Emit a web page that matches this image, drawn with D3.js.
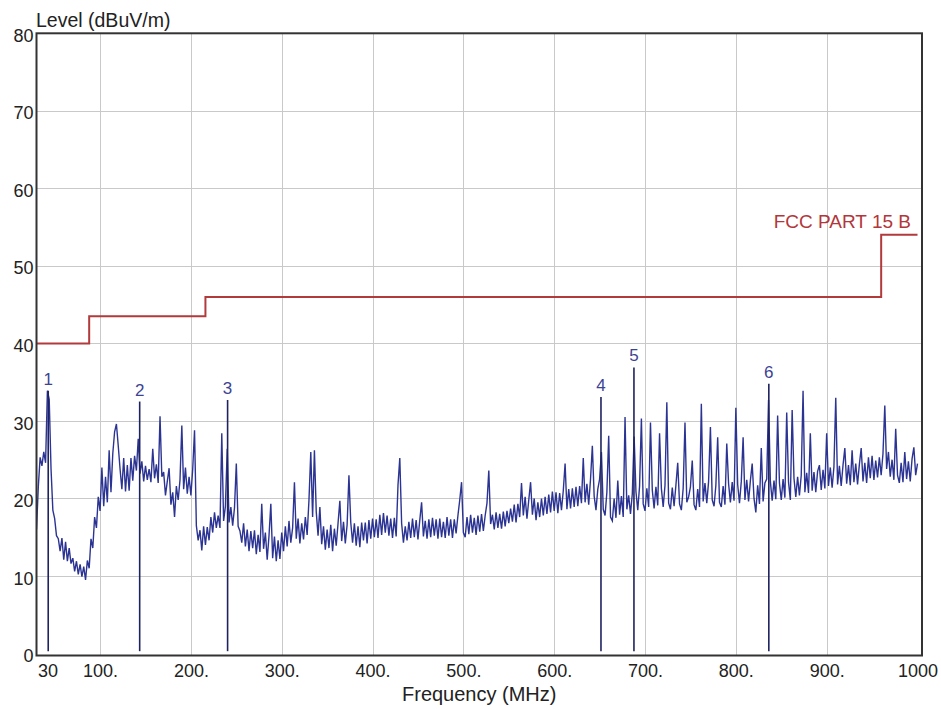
<!DOCTYPE html>
<html><head><meta charset="utf-8">
<script src="https://cdn.jsdelivr.net/npm/d3@7"></script>
<style>
body{margin:0;background:#fff}
svg{display:block}
text{font-family:"Liberation Sans",Arial,sans-serif}
</style>
</head><body>
<svg id="chart" width="941" height="710"></svg>
<script>
// ---------- data ----------
const sweepStartMHz = 30;
const sweepStepMHz = 2;
const traceLevels = [
16,21.5,25.3,24.2,26,24.6,33.9,32.8,23.8,18.5,
17.4,15.2,14.8,13.2,14.9,12.1,14.4,11.9,13.6,11.6,
12.3,10.6,11.9,10.2,11.5,9.9,11.2,9.5,12,11,
14.8,13.6,17.6,16.2,20.2,18.4,24,19,22.8,19.5,
26.2,20.8,25.8,28.6,29.6,26.8,23.8,21.2,25.2,20.9,
24.3,21,25.2,22.3,25.5,23.6,27.7,23.2,24.8,22.2,
24.2,22.4,23.8,22.1,26.4,22.6,24.4,22,30.6,22.8,
23.4,20.4,22.2,23.9,19.2,20.8,17.6,21.6,19.8,22.4,
29.4,21.2,24,20.6,22.8,20.4,23.8,28.8,16.5,14.6,
15.9,13.3,16.4,14,16.3,14.6,17.6,15.6,18.2,16.2,
17.8,16.2,28.4,17.1,19,26.4,16.9,18.9,16.5,18.8,
24.5,16.4,15.8,14.3,16.8,13.8,16,13.2,15.8,13.6,
15.9,12.8,15.3,13.1,19.3,13.5,15.6,12.1,15.2,19.3,
12.3,15.1,11.9,14.6,12.2,15.6,13.2,16.4,13.8,17.1,
14.3,16.2,22.1,14.8,17.4,14.2,16.8,14.7,17.6,15.3,
19.8,26,17.6,26.2,18.3,15.2,18.9,14.1,16.4,13.4,
16,13.6,16.6,13.2,16.1,13.9,16.8,19.7,14.5,17,
14.2,16.6,23,16.9,14.3,16.8,13.9,16.4,13.7,16.9,
14.6,16.9,14.2,17.2,14.8,17.4,15,17.3,14.9,17.9,
15.3,18.1,15.6,17.8,15.2,17.4,14.9,17.5,15.1,21.7,
25.2,16.8,14.3,16.4,14.6,17,14.9,17.4,15,17.2,
14.7,17.2,19.5,15.1,17.1,14.8,17.3,15,17.5,15.2,
17.3,14.8,17.4,15,17,14.9,17.6,15.2,17.3,14.9,
17.3,15.5,17.8,19.8,22.1,15.6,15,17.6,15.4,17.9,
15.6,17.5,15.3,17.8,15.7,18,15.8,17.8,19.4,23.6,
16.7,17.9,16,18.2,16.2,18,16.1,18.3,16.4,18.4,
16.8,18.7,17,19.2,16.9,19.3,17.6,22,17.8,20.2,
17.4,19.8,22.1,17.9,20,17.2,19.5,17.6,20,17.8,
20.2,18,20.5,18.2,20.9,18.4,20.8,18.1,20.7,18.5,
21,24.5,18.6,21.2,18.7,21.3,18.9,21.5,19,21.6,
19.4,25.2,19.5,21.9,19.2,22.5,26.8,20.3,18.5,21.2,
22.5,26,18.6,17.8,20.8,28.1,17.6,17.1,20,17.5,
22.3,17.9,20.3,17.6,30.5,18.6,20.4,18,20.6,28,
20.9,18.5,21.6,30.3,19.3,18.4,21.3,18.9,29.8,21.1,
18.7,21.5,19.1,28.4,21.3,18.9,21.7,32.4,19.4,18.6,
21.4,19,21.7,24.6,19.3,18.5,21.3,29.8,19.5,20.2,
21.5,24.9,19.2,18.5,21.2,18.9,32.2,19.6,22,19.4,
22.2,29.2,19.8,19,21.7,27.9,19.5,18.9,21.6,19.2,
27.1,21.9,19.5,22.1,19.7,31.7,21.8,19.4,22.2,27.9,
19.8,22.4,19.6,22.3,24.5,20,18.2,21.7,19.3,26.5,
19.6,22,22.5,32.7,22.2,19.7,22.3,19.9,30.7,22,
19.8,22.5,20.1,31.1,22.1,19.8,31.4,22.6,20.2,22.8,
20.4,23,33.9,20.8,23.3,20.7,28.4,21,23.4,20.8,
23.5,24.3,21.1,23.7,21.3,28.4,21.6,24,21.4,24.1,
33,21.8,24.2,21.6,24.3,26.5,21.9,24.3,21.7,26.2,
22.1,24.5,21.8,24.4,26.5,22.2,24.6,22,25.3,22.6,
25.5,22.4,24.9,22.7,25.3,23,25.8,32,23.8,26,
22.8,25,22.4,29,23,22,24.6,22.1,26,22.5,
24.8,22.2,25.1,26.6,23,24.5
];
const xTickValues = [30,100,200,300,400,500,600,700,800,900,1000];
const xTickLabels = ["30","100.","200.","300.","400.","500.","600.","700.","800.","900.","1000"];
const yTickValues = [0,10,20,30,40,50,60,70,80];
const limitFreq = [30,88,216,960,1000];
const limitLevel = [40,43.5,46,54,54];
const limitName = "FCC PART 15 B";
const markerIds = ["1","2","3","4","5","6"];
const markerFreq = [42.9,143.6,240.4,651.5,687.8,836.3];
const markerLevel = [33.9,32.5,32.7,33.1,36.9,34.8];
const yTitle = "Level (dBuV/m)";
const xTitle = "Frequency (MHz)";

// ---------- layout ----------
const svg = d3.select("#chart");
const x = d3.scaleLinear().domain([30,1000]).range([36.5,917.5]);
const y = d3.scaleLinear().domain([0,80]).range([653.5,33.3]);
const frameRight = 922, frameBottom = 655.5;

// grid
const grid = svg.append("g").attr("stroke","#c9c9c9").attr("stroke-width",1);
grid.selectAll("line.v").data(xTickValues.slice(1,-1)).join("line")
  .attr("x1",d=>Math.round(x(d))+0.5).attr("x2",d=>Math.round(x(d))+0.5)
  .attr("y1",y(80)).attr("y2",frameBottom);
grid.selectAll("line.h").data(yTickValues.slice(1,-1)).join("line")
  .attr("x1",x(30)).attr("x2",frameRight)
  .attr("y1",d=>Math.round(y(d))+0.5).attr("y2",d=>Math.round(y(d))+0.5);

// clip
svg.append("clipPath").attr("id","plot").append("rect")
  .attr("x",x(30)).attr("y",y(80)).attr("width",frameRight-x(30)).attr("height",frameBottom-y(80));

// limit line
const limitData = limitFreq.map((f,i)=>[f,limitLevel[i]]);
svg.append("path").datum(limitData)
  .attr("fill","none").attr("stroke","#b23a3c").attr("stroke-width",2)
  .attr("d",d3.line().x(d=>x(d[0])).y(d=>y(d[1])).curve(d3.curveStepAfter));
svg.append("text").attr("x",911).attr("y",228).attr("text-anchor","end")
  .attr("fill","#b3363a").attr("font-size",19).text(limitName);

// trace
const traceData = traceLevels.map((v,i)=>[sweepStartMHz + i*sweepStepMHz, v]);
svg.append("path").datum(traceData).attr("clip-path","url(#plot)")
  .attr("fill","none").attr("stroke","#2c3493").attr("stroke-width",1.4).attr("stroke-linejoin","miter")
  .attr("d",d3.line().x(d=>x(d[0])).y(d=>y(d[1])));

// markers
const mk = svg.append("g");
mk.selectAll("line").data(markerFreq).join("line")
  .attr("x1",d=>x(d)).attr("x2",d=>x(d))
  .attr("y1",y(0.3)).attr("y2",(d,i)=>y(markerLevel[i]))
  .attr("stroke","#1e2260").attr("stroke-width",1.6);
mk.selectAll("text").data(markerFreq).join("text")
  .attr("x",d=>x(d)).attr("y",(d,i)=>y(markerLevel[i])-6)
  .attr("text-anchor","middle").attr("fill","#3d4393").attr("font-size",17)
  .text((d,i)=>markerIds[i]);

// frame
svg.append("rect").attr("x",x(30)).attr("y",y(80))
  .attr("width",frameRight-x(30)).attr("height",frameBottom-y(80))
  .attr("fill","none").attr("stroke","#333").attr("stroke-width",2);

// axes
const xAxis = svg.append("g").attr("transform",`translate(0,${frameBottom})`)
  .call(d3.axisBottom(x).tickValues(xTickValues).tickSize(0).tickPadding(9)
    .tickFormat((d,i)=>xTickLabels[i]));
xAxis.select(".domain").remove();
xAxis.selectAll("text").attr("font-size",18).attr("fill","#222")
  .attr("font-family","Liberation Sans, Arial, sans-serif")
  .attr("text-anchor",(d,i)=>i===0?"start":"middle")
  .attr("dx",(d,i)=>i===0?"1":"0");

const yAxis = svg.append("g").attr("transform",`translate(${x(30)},0)`)
  .call(d3.axisLeft(y).tickValues(yTickValues).tickSize(0).tickPadding(3));
yAxis.select(".domain").remove();
yAxis.selectAll("text").attr("font-size",18).attr("fill","#222")
  .attr("font-family","Liberation Sans, Arial, sans-serif").attr("dy","0.45em");

svg.append("text").attr("x",36).attr("y",27).attr("font-size",19.5).attr("fill","#222").text(yTitle);
svg.append("text").attr("x",(x(30)+frameRight)/2).attr("y",701).attr("text-anchor","middle")
  .attr("font-size",20).attr("fill","#222").text(xTitle);
</script>
</body></html>
